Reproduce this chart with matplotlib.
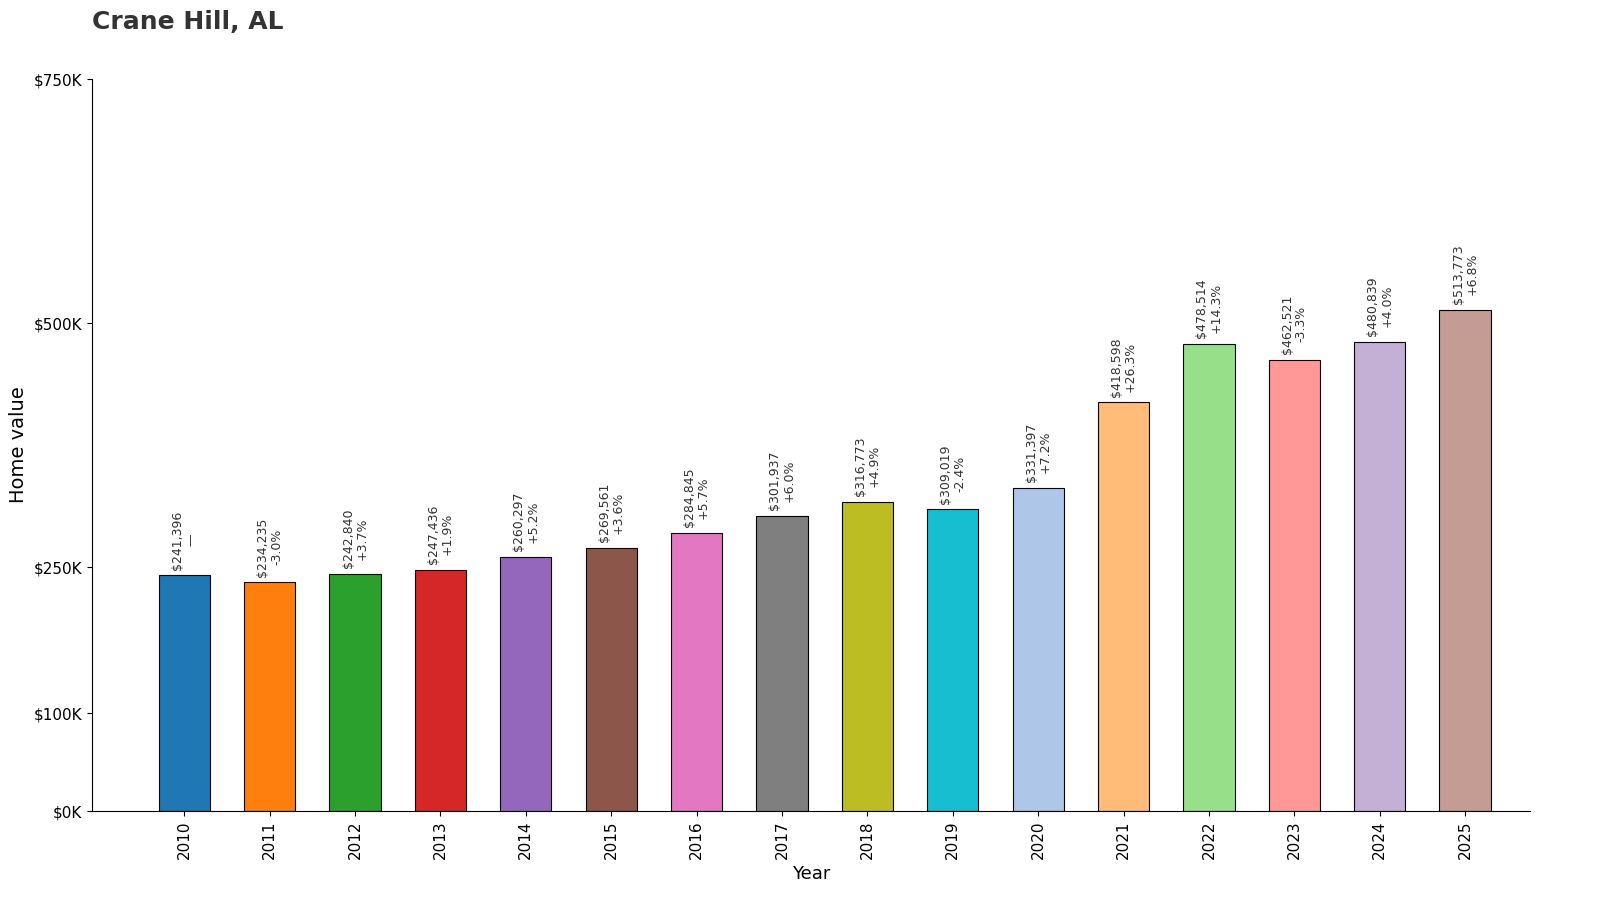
import matplotlib.pyplot as plt
from matplotlib.ticker import FuncFormatter

years = list(range(2010, 2026))
values = [241396, 234235, 242840, 247436, 260297, 269561, 284845, 301937,
          316773, 309019, 331397, 418598, 478514, 462521, 480839, 513773]
changes = ["—", "-3.0%", "+3.7%", "+1.9%", "+5.2%", "+3.6%", "+5.7%", "+6.0%",
           "+4.9%", "-2.4%", "+7.2%", "+26.3%", "+14.3%", "-3.3%", "+4.0%", "+6.8%"]
colors = ["#1f77b4", "#ff7f0e", "#2ca02c", "#d62728", "#9467bd", "#8c564b",
          "#e377c2", "#7f7f7f", "#bcbd22", "#17becf", "#aec7e8", "#ffbb78",
          "#98df8a", "#ff9896", "#c5b0d5", "#c49c94"]

fig = plt.figure(figsize=(16, 9.11), dpi=100)
ax = fig.add_axes([92 / 1600, 1 - 811 / 911, (1530 - 92) / 1600, (811 - 79) / 911])

x = range(len(years))
ax.bar(x, values, width=0.6, color=colors, edgecolor="black", linewidth=0.8)
for i, (v, c) in enumerate(zip(values, changes)):
    ax.text(i, v + 6000, f"${v:,}\n{c}", rotation=90, ha="center", va="bottom",
            fontsize=9, color="#333333", linespacing=1.1)

ax.set_xlim(-1.08, 15.76)
ax.set_ylim(0, 750000)
ax.set_yticks([0, 100000, 250000, 500000, 750000])
ax.yaxis.set_major_formatter(FuncFormatter(lambda v, p: f"${int(v / 1000)}K"))
ax.set_xticks(list(x))
ax.set_xticklabels([str(y) for y in years], rotation=90, fontsize=11)
ax.tick_params(axis="y", labelsize=11)
ax.spines[["top", "right"]].set_visible(False)
ax.set_xlabel("Year", fontsize=13)
ax.set_ylabel("Home value", fontsize=14)
fig.text(92 / 1600, 1 - 22 / 911, "Crane Hill, AL", fontsize=18, fontweight="bold",
         color="#333333", va="center", ha="left")

fig.savefig("out.png", dpi=100)
